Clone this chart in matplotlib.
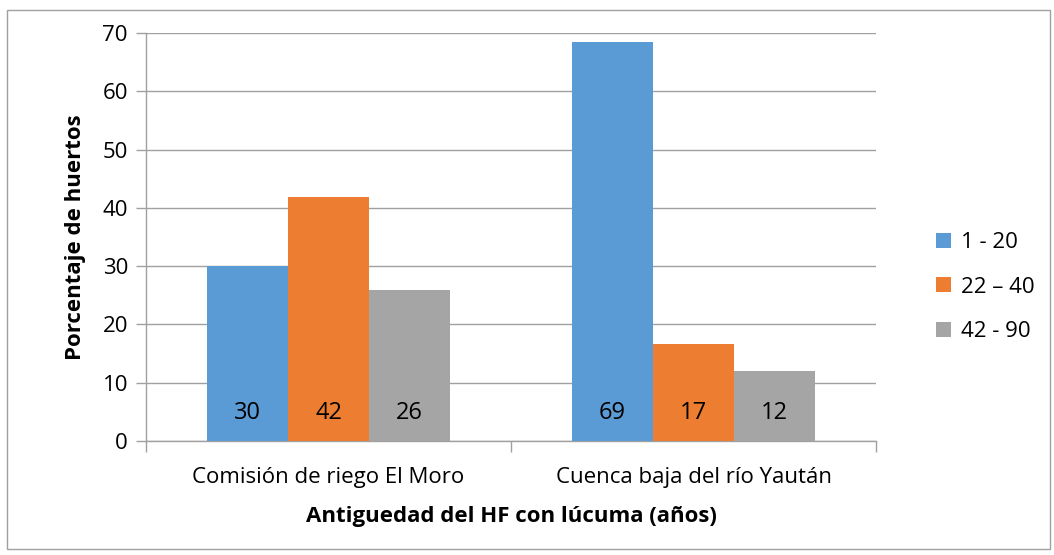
import numpy as np
import matplotlib.pyplot as plt
from matplotlib.patches import Rectangle

plt.rcParams['font.family'] = ['Open Sans', 'DejaVu Sans']

sitios = ['Comisión de riego El Moro', 'Cuenca baja del río Yaután']
series = ['1 - 20', '22 – 40', '42 - 90']
valores = [
    [30.0, 68.4],   # 1 - 20
    [41.9, 16.6],   # 22 - 40
    [25.9, 12.0],   # 42 - 90
]
etiquetas = [['30', '69'], ['42', '17'], ['26', '12']]
colores = ['#5b9bd5', '#ed7d31', '#a5a5a5']

fs = 16

fig = plt.figure(figsize=(10.54, 5.55), dpi=100)
ax = fig.add_axes([146/1054, 1-441/555, 730/1054, 408/555])

# borde exterior del grafico
fig.patches.append(Rectangle((7/1054, 1-549/555), 1043/1054, 539/555,
                             transform=fig.transFigure, fill=False,
                             edgecolor='#a0a0a0', linewidth=1))

x = np.arange(len(sitios))
w = 1/4.5
for i, s in enumerate(series):
    pos = x + (i-1)*w
    ax.bar(pos, valores[i], width=w, color=colores[i], label=s, zorder=3)
    for p, t in zip(pos, etiquetas[i]):
        ax.annotate(t, (p, 0), xytext=(0, 20), textcoords='offset points',
                    ha='center', va='center', fontsize=fs+1, color='black', zorder=4)

ax.set_xlim(-0.5, 1.5)
ax.set_ylim(0, 70)
ax.set_yticks(np.arange(0, 71, 10))
ax.yaxis.grid(True, color='#a0a0a0', linewidth=1, zorder=0)
ax.set_axisbelow(True)

ax.set_xticks(x)
ax.set_xticklabels(sitios, fontsize=fs)
ax.tick_params(axis='x', length=0, pad=19)
ax.set_xticks([-0.5, 0.5, 1.5], minor=True)
ax.tick_params(axis='x', which='minor', length=8, color='#a0a0a0', width=1)
ax.tick_params(axis='y', labelsize=fs, length=7, color='#a0a0a0', width=1, pad=6)

for sp in ['top', 'right']:
    ax.spines[sp].set_visible(False)
for sp in ['left', 'bottom']:
    ax.spines[sp].set_color('#a0a0a0')
    ax.spines[sp].set_linewidth(1)

ax.set_ylabel('Porcentaje de huertos', fontsize=fs, fontweight='bold', labelpad=12)
ax.set_xlabel('Antiguedad del HF con lúcuma (años)', fontsize=fs, fontweight='bold', labelpad=13)

ax.legend(loc='center left', bbox_to_anchor=(1.055, 0.377), frameon=False,
          fontsize=fs, handlelength=0.65, handleheight=0.65, labelspacing=1.05,
          handletextpad=0.45)

fig.savefig('out.png', dpi=100)
